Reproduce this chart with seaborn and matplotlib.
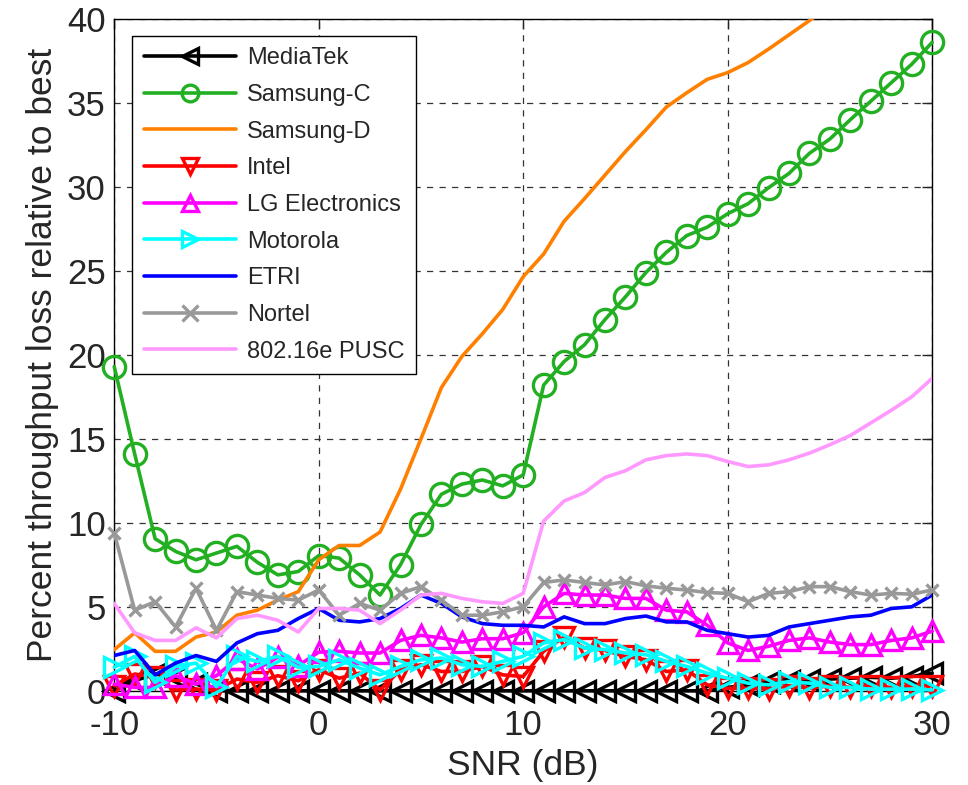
import numpy as np
import pandas as pd
import matplotlib
matplotlib.use("Agg")
import matplotlib.pyplot as plt
import seaborn as sns

snr = list(range(-10, 31))

mediatek = [0.0, 0.6, 1.0, 0.8, 0.4, 0.0] + [0.0] * 24 + \
           [0.2, 0.35, 0.5, 0.6, 0.65, 0.7, 0.75, 0.8, 0.75, 0.85, 1.05]
samsung_c = [19.3, 14.1, 9.05, 8.3, 7.8, 8.2, 8.6, 7.65, 6.9, 7.1, 8.05,
             7.9, 6.9, 5.7, 7.5, 9.9, 11.7, 12.3, 12.55, 12.2, 12.85,
             18.2, 19.6, 20.6, 22.1, 23.45, 24.9, 26.1, 27.1, 27.6, 28.4,
             29.0, 29.95, 30.8, 32.0, 32.85, 34.0, 35.1, 36.2, 37.3, 38.6]
samsung_d = [2.45, 3.45, 2.35, 2.35, 3.2, 3.5, 4.5, 4.8, 5.4, 5.9, 7.8,
             8.65, 8.65, 9.45, 12.0, 15.0, 18.05, 19.9, 21.25, 22.7, 24.65,
             26.0, 27.95, 29.3, 30.7, 32.1, 33.4, 34.75, 35.6, 36.4, 36.8,
             37.4, 38.2, 39.05, 39.9, 40.8, 41.6, 42.4, 43.2, 44.0, 44.8]
intel = [0.3, 1.0, 0.8, 0.05, 0.1, 0.05, 0.7, 0.5, 0.9, 0.6, 1.25,
         0.75, 1.05, 0.05, 1.25, 1.55, 1.15, 1.15, 1.45, 0.95, 0.85,
         2.35, 3.2, 2.55, 2.4, 2.05, 1.85, 1.15, 1.25, 0.35, 0.15,
         0.15, 0.1, 0.3, 0.15, 0.3, 0.2, 0.3, 0.2, 0.3, 0.3]
lg = [0.4, 0.2, 0.2, 0.9, 0.4, 0.9, 1.9, 1.3, 2.0, 1.5, 2.3,
      2.35, 2.25, 2.25, 3.0, 3.3, 3.15, 2.9, 3.1, 3.1, 3.45,
      5.0, 5.8, 5.7, 5.7, 5.5, 5.5, 4.8, 4.7, 3.9, 2.85,
      2.4, 2.65, 3.0, 3.15, 2.9, 2.75, 2.75, 3.0, 3.15, 3.55]
motorola = [1.4, 2.05, 0.5, 1.45, 1.65, 0.25, 2.05, 1.75, 2.05, 1.4, 1.45,
            1.85, 1.35, 0.95, 1.45, 1.85, 1.95, 1.55, 1.45, 1.75, 2.05,
            2.85, 3.05, 2.55, 2.45, 2.25, 2.15, 1.75, 1.45, 1.05, 0.75,
            0.45, 0.35, 0.55, 0.45, 0.2, 0.2, 0.1, 0.1, 0.1, 0.05]
etri = [2.1, 2.4, 0.95, 1.65, 2.1, 1.75, 2.85, 3.4, 3.6, 4.3, 4.9,
        4.2, 4.1, 4.3, 4.9, 5.7, 5.2, 4.4, 4.0, 3.9, 3.9,
        3.8, 4.4, 4.0, 4.0, 4.3, 4.45, 4.1, 4.1, 3.6, 3.4,
        3.2, 3.3, 3.8, 4.0, 4.2, 4.4, 4.5, 4.9, 5.0, 5.7]
nortel = [9.4, 4.8, 5.3, 3.8, 6.1, 3.6, 5.9, 5.7, 5.5, 5.4, 6.0,
          4.5, 5.2, 4.8, 5.8, 6.2, 5.4, 4.5, 4.5, 4.7, 5.0,
          6.45, 6.6, 6.45, 6.3, 6.5, 6.25, 6.1, 6.0, 5.85, 5.8,
          5.3, 5.8, 5.9, 6.2, 6.2, 5.9, 5.7, 5.8, 5.75, 6.0]
pusc = [5.2, 3.45, 3.0, 3.0, 3.75, 3.15, 4.3, 4.5, 4.2, 3.5, 4.9,
        4.9, 4.8, 4.0, 4.8, 5.7, 5.8, 5.5, 5.3, 5.2, 5.8,
        10.1, 11.3, 11.8, 12.7, 13.1, 13.75, 14.0, 14.1, 14.0, 13.65,
        13.35, 13.45, 13.75, 14.15, 14.65, 15.2, 15.95, 16.7, 17.5, 18.6]

labels = ["MediaTek", "Samsung-C", "Samsung-D", "Intel", "LG Electronics",
          "Motorola", "ETRI", "Nortel", "802.16e PUSC"]
xtick_labels = ["-10", "0", "10", "20", "30"]
series = [mediatek, samsung_c, samsung_d, intel, lg, motorola, etri, nortel, pusc]
colors = ["#000000", "#22B022", "#FF8000", "#FF0000", "#FF00FF",
          "#00FFFF", "#0000FF", "#999999", "#FF99FF"]
markers = ["<", "o", None, "v", "^", ">", None, "x", None]
msizes = [14, 16, 0, 14, 14, 14, 0, 8, 0]

sns.set_style("white")
plt.rcParams["font.family"] = ["Liberation Sans", "DejaVu Sans"]

fig = plt.figure(figsize=(9.68, 7.85), dpi=100)
ax = fig.add_axes([0.118, 0.12, 0.845, 0.856])

for i, (lab, ys, c, m, ms) in enumerate(zip(labels, series, colors, markers, msizes)):
    df = pd.DataFrame({"snr": snr, "loss": ys})
    kw = dict(color=c, linewidth=2.6, label=lab, ax=ax, zorder=3 + i)
    if m is not None:
        kw.update(marker=m, markersize=ms, markerfacecolor="none",
                  markeredgecolor=c, markeredgewidth=2.4, clip_on=False)
    sns.lineplot(data=df, x="snr", y="loss", **kw)

ax.set_xlim(-10, 30)
ax.set_ylim(0, 40)
ax.set_xticks([-10, 0, 10, 20, 30])
ax.set_xticklabels(xtick_labels)
ax.set_yticks(range(0, 41, 5))
ax.set_xlabel("SNR (dB)", fontsize=25.5, labelpad=5)
ax.set_ylabel("Percent throughput loss relative to best", fontsize=25.5, labelpad=6)
ax.tick_params(axis="both", labelsize=25, direction="in", length=7, width=1,
               top=True, right=True)
ax.tick_params(axis="x", pad=13)
ax.tick_params(axis="y", pad=6)
ax.grid(True, color="#333333", linestyle=(0, (5, 5)), linewidth=0.9)
for sp in ax.spines.values():
    sp.set_color("black")
    sp.set_linewidth(1.0)

leg = ax.legend(loc="upper left", bbox_to_anchor=(0.022, 0.975), fontsize=17,
                numpoints=1, handlelength=3.9, handletextpad=0.45,
                labelspacing=0.62, borderpad=0.5, fancybox=False, framealpha=1,
                edgecolor="black", borderaxespad=0)
leg.get_frame().set_linewidth(1.0)
leg.set_zorder(20)
for h in leg.legend_handles:
    try:
        h.set_markersize(12)
    except Exception:
        pass

fig.savefig("out.png", dpi=100)
